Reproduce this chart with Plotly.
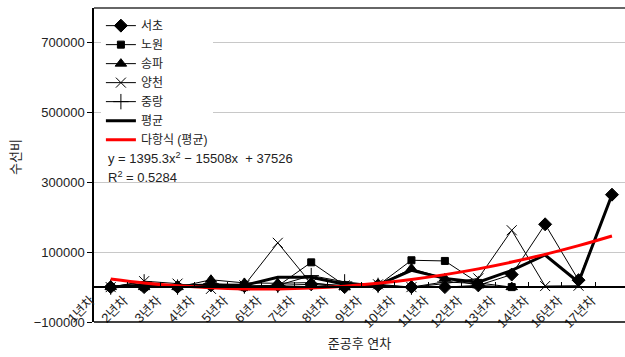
import plotly.graph_objects as go

# 준공후 연차 (15년차 자료 없음)
years = ["1년차", "2년차", "3년차", "4년차", "5년차", "6년차", "7년차", "8년차",
         "9년차", "10년차", "11년차", "12년차", "13년차", "14년차", "16년차", "17년차"]

# 구별 수선비
seocho = [0, 0, 0, 5000, 3000, 5000, 8000, 0, 5000, 0, 0, 5000, 36000, 180000, 20000, 265000]
nowon = [0, 0, 0, 5000, 0, 3000, 71000, 5000, 5000, 77000, 75000, 12000, 0, None, None, None]
songpa = [0, 0, 0, 21000, 12000, 11000, 13000, 0, 6000, 53000, 25000, 5000, 0, None, None, None]
yangcheon = [0, 17000, 10000, -5000, 5000, 127000, 10000, 5000, 8000, 0, 10000, 25000, 163000, 3000, 4000, None]
jungnang = [0, 15000, 0, 10000, 3000, 5000, 33000, 15000, 5000, 0, 15000, 10000, None, None, None, None]
average = [0, 6000, 3000, 6000, 5000, 28000, 28000, 8000, 6000, 48000, 25000, 14000, 48000, 92000, 14000, 265000]

# 세로축 눈금
y_ticks = [-100000, 100000, 300000, 500000, 700000]
y_tick_text = ["−100000", "100000", "300000", "500000", "700000"]

# 평균에 대한 2차 다항식 추세선 계수
coef_a, coef_b, coef_c = 1395.3, -15508, 37526
r_squared = 0.5284
trend = [coef_a * n ** 2 + coef_b * n + coef_c for n in range(1, len(years) + 1)]

FONT = "Liberation Sans, Arial, Noto Sans CJK KR, sans-serif"
TXT = "#222222"

fig = go.Figure()

def district(name, values, symbol, size):
    fig.add_trace(go.Scatter(
        x=years, y=values, name=name, mode="lines+markers",
        line=dict(color="black", width=1),
        marker=dict(symbol=symbol, size=size, color="black",
                    line=dict(color="black", width=1)),
        connectgaps=False,
    ))

district("서초", seocho, "diamond", 10)
district("노원", nowon, "square", 7)
district("송파", songpa, "triangle-up", 10)
district("양천", yangcheon, "x-thin-open", 10)
district("중랑", jungnang, "cross-thin-open", 11)

fig.add_trace(go.Scatter(
    x=years, y=average, name="평균", mode="lines",
    line=dict(color="black", width=3),
))
fig.add_trace(go.Scatter(
    x=years, y=trend, name="다항식 (평균)", mode="lines",
    line=dict(color="#ff0000", width=3, shape="spline"),
))

y_min, y_max = -100000, 800000
zero_pos = (0 - y_min) / (y_max - y_min)

fig.update_layout(
    width=625, height=357,
    margin=dict(l=94, r=0, t=8, b=35),
    paper_bgcolor="white", plot_bgcolor="white",
    font=dict(family=FONT, size=13, color=TXT),
    showlegend=True,
    legend=dict(
        x=0.013, y=0.99, xanchor="left", yanchor="top",
        bgcolor="white", borderwidth=0,
        font=dict(size=12, color=TXT),
        itemwidth=30, tracegroupgap=0,
    ),
    xaxis=dict(
        type="category", range=[-0.5, 15.39],
        anchor="free", position=zero_pos,
        showline=True, linecolor="black", linewidth=1.5,
        ticks="inside", tickson="boundaries", ticklen=4, tickcolor="black",
        tickangle=-45, ticklabelshift=-20, showgrid=False,
        tickfont=dict(size=13, color=TXT),
        title=dict(text="준공후 연차", font=dict(size=13, color=TXT), standoff=8),
    ),
    yaxis=dict(
        range=[y_min, y_max], tickmode="array", tickvals=y_ticks, ticktext=y_tick_text,
        showgrid=True, gridcolor="#c8c8c8", gridwidth=1,
        zeroline=False,
        showline=True, linecolor="black", linewidth=1.5,
        ticks="outside", ticklen=5, tickcolor="black",
        tickfont=dict(size=13, color=TXT),
    ),
    shapes=[
        dict(type="line", xref="paper", yref="paper", x0=0, x1=1, y0=1, y1=1,
             line=dict(color="#333333", width=1.5)),
        dict(type="line", xref="paper", yref="paper", x0=0, x1=1, y0=0, y1=0,
             line=dict(color="black", width=1.5)),
    ],
    annotations=[
        dict(xref="paper", yref="paper", x=-0.149, y=0.525, xanchor="center", yanchor="middle",
             showarrow=False, textangle=-90, text="수선비",
             font=dict(size=13, color=TXT)),
        dict(xref="paper", yref="paper", x=0.022, y=0.522, xanchor="left", yanchor="middle",
             showarrow=False, align="left",
             text=f"y = {coef_a}x<sup>2</sup> − {abs(coef_b)}x  + {coef_c}",
             font=dict(size=13, color=TXT)),
        dict(xref="paper", yref="paper", x=0.022, y=0.462, xanchor="left", yanchor="middle",
             showarrow=False, align="left",
             text=f"R<sup>2</sup> = {r_squared}",
             font=dict(size=13, color=TXT)),
    ],
)

fig.write_html("out.html")
